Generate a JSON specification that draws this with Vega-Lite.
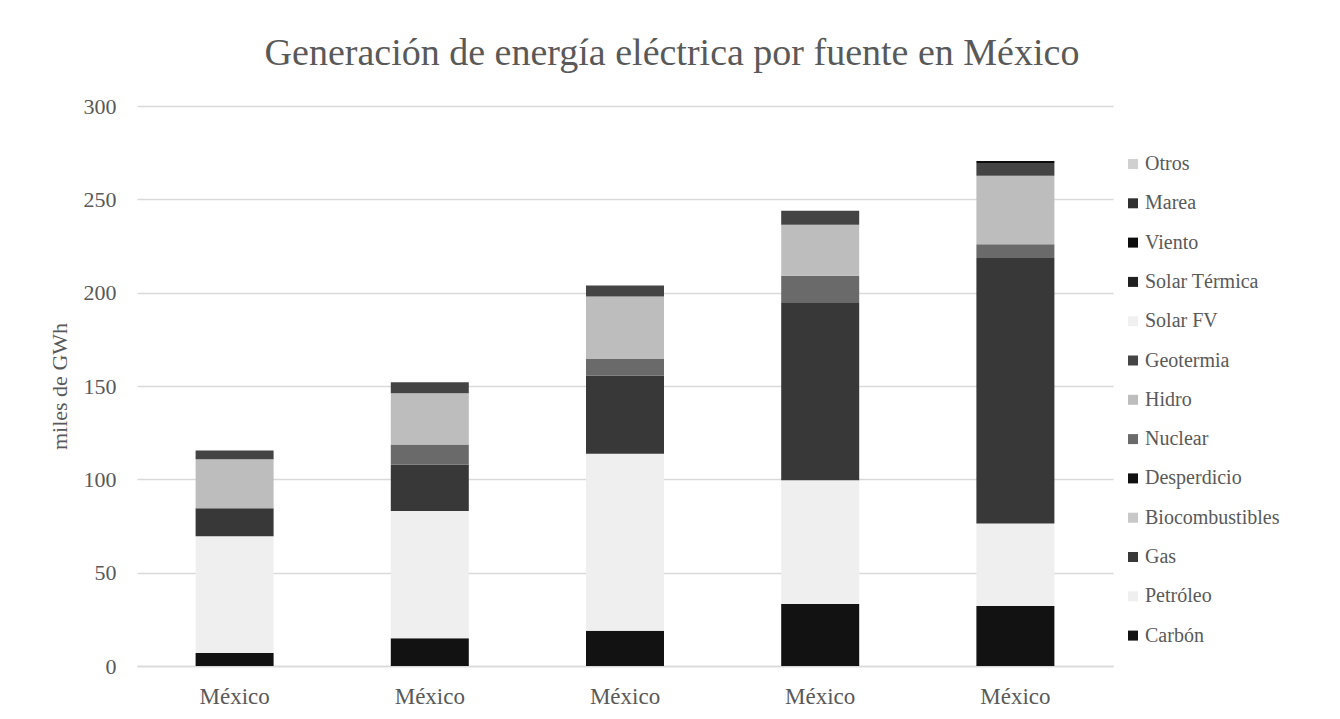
{
  "$schema": "https://vega.github.io/schema/vega-lite/v6.json",
  "width": 976,
  "height": 560,
  "autosize": "none",
  "padding": {"left": 137, "top": 106, "right": 227, "bottom": 53},
  "background": "white",
  "title": {
    "text": "Generación de energía eléctrica por fuente en México",
    "font": "Liberation Serif",
    "fontSize": 38,
    "fontWeight": "normal",
    "color": "#595959",
    "anchor": "middle",
    "offset": 22,
    "dx": 47
  },
  "data": {
    "values": [
      {"columna": 1, "fuente": "Carbón", "n": 1, "valor": 7.0},
      {"columna": 1, "fuente": "Petróleo", "n": 2, "valor": 62.5},
      {"columna": 1, "fuente": "Gas", "n": 3, "valor": 15.0},
      {"columna": 1, "fuente": "Hidro", "n": 7, "valor": 26.2},
      {"columna": 1, "fuente": "Geotermia", "n": 8, "valor": 4.8},
      {"columna": 2, "fuente": "Carbón", "n": 1, "valor": 14.8},
      {"columna": 2, "fuente": "Petróleo", "n": 2, "valor": 68.2},
      {"columna": 2, "fuente": "Gas", "n": 3, "valor": 25.0},
      {"columna": 2, "fuente": "Nuclear", "n": 6, "valor": 10.7},
      {"columna": 2, "fuente": "Hidro", "n": 7, "valor": 27.4},
      {"columna": 2, "fuente": "Geotermia", "n": 8, "valor": 5.9},
      {"columna": 3, "fuente": "Carbón", "n": 1, "valor": 18.9},
      {"columna": 3, "fuente": "Petróleo", "n": 2, "valor": 94.8},
      {"columna": 3, "fuente": "Gas", "n": 3, "valor": 41.9},
      {"columna": 3, "fuente": "Nuclear", "n": 6, "valor": 8.9},
      {"columna": 3, "fuente": "Hidro", "n": 7, "valor": 33.4},
      {"columna": 3, "fuente": "Geotermia", "n": 8, "valor": 6.0},
      {"columna": 4, "fuente": "Carbón", "n": 1, "valor": 33.2},
      {"columna": 4, "fuente": "Petróleo", "n": 2, "valor": 66.3},
      {"columna": 4, "fuente": "Gas", "n": 3, "valor": 95.3},
      {"columna": 4, "fuente": "Nuclear", "n": 6, "valor": 14.3},
      {"columna": 4, "fuente": "Hidro", "n": 7, "valor": 27.3},
      {"columna": 4, "fuente": "Geotermia", "n": 8, "valor": 7.5},
      {"columna": 5, "fuente": "Carbón", "n": 1, "valor": 32.1},
      {"columna": 5, "fuente": "Petróleo", "n": 2, "valor": 44.2},
      {"columna": 5, "fuente": "Gas", "n": 3, "valor": 142.3},
      {"columna": 5, "fuente": "Nuclear", "n": 6, "valor": 7.4},
      {"columna": 5, "fuente": "Hidro", "n": 7, "valor": 36.6},
      {"columna": 5, "fuente": "Geotermia", "n": 8, "valor": 6.9},
      {"columna": 5, "fuente": "Viento", "n": 11, "valor": 1.1}
    ]
  },
  "mark": {"type": "bar", "width": 78},
  "encoding": {
    "x": {
      "field": "columna",
      "type": "ordinal",
      "axis": {
        "title": null,
        "labelExpr": "'México'",
        "labelAngle": 0,
        "labelFont": "Liberation Serif",
        "labelFontSize": 23,
        "labelColor": "#595959",
        "labelPadding": 19,
        "ticks": false,
        "domainColor": "#d9d9d9",
        "domainWidth": 1.5
      }
    },
    "y": {
      "field": "valor",
      "type": "quantitative",
      "stack": "zero",
      "scale": {"domain": [0, 300]},
      "axis": {
        "title": "miles de GWh",
        "titleFont": "Liberation Serif",
        "titleFontSize": 22,
        "titleFontWeight": "normal",
        "titleColor": "#595959",
        "titlePadding": 12,
        "values": [0, 50, 100, 150, 200, 250, 300],
        "labelFont": "Liberation Serif",
        "labelFontSize": 22,
        "labelColor": "#595959",
        "labelPadding": 21,
        "ticks": false,
        "domain": false,
        "gridColor": "#d9d9d9",
        "gridWidth": 1.5
      }
    },
    "color": {
      "field": "fuente",
      "type": "nominal",
      "scale": {
        "domain": ["Otros", "Marea", "Viento", "Solar Térmica", "Solar FV", "Geotermia", "Hidro", "Nuclear", "Desperdicio", "Biocombustibles", "Gas", "Petróleo", "Carbón"],
        "range": ["#d0d0d0", "#303030", "#0d0d0d", "#202020", "#f0f0f0", "#444444", "#bdbdbd", "#6a6a6a", "#111111", "#c8c8c8", "#383838", "#efefef", "#121212"]
      },
      "legend": {
        "title": null,
        "orient": "none",
        "legendX": 986,
        "legendY": 48,
        "symbolType": "square",
        "symbolSize": 100,
        "symbolStrokeWidth": 0,
        "labelFont": "Liberation Serif",
        "labelFontSize": 20,
        "labelColor": "#595959",
        "labelOffset": 2,
        "rowPadding": 19.3
      }
    },
    "order": {"field": "n", "type": "quantitative", "sort": "ascending"}
  },
  "config": {"view": {"stroke": null}}
}
